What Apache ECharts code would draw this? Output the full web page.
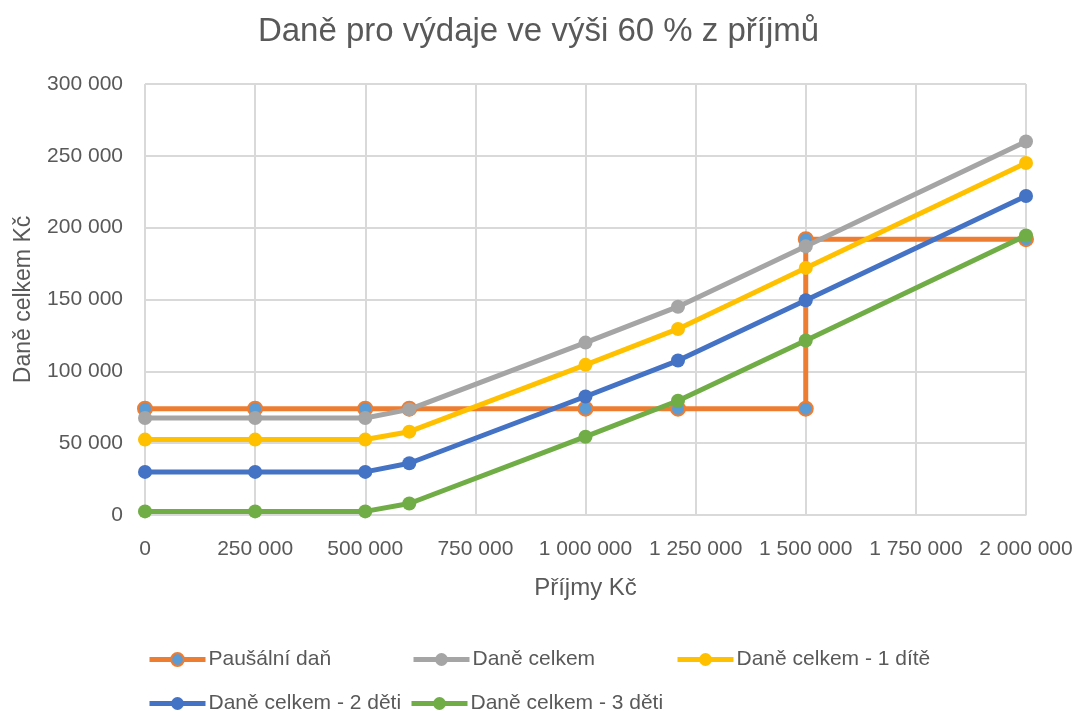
<!DOCTYPE html>
<html><head><meta charset="utf-8">
<script src="https://cdn.jsdelivr.net/npm/echarts@6/dist/echarts.min.js"></script>
<style>html,body{margin:0;padding:0;background:#fff}#c{width:1077px;height:711px}</style>
</head><body><div id="c"></div>
<script>
const xPausal = [0, 250000, 500000, 600000, 1000000, 1210000, 1500000, 1500000, 2000000];
const yPausal = [74000, 74000, 74000, 74000, 74000, 74000, 74000, 192000, 192000];
const xTax = [0, 250000, 500000, 600000, 1000000, 1210000, 1500000, 2000000];
const yCelkem = [67500, 67500, 67500, 73500, 120000, 145000, 187000, 260000];
const y1dite = [52500, 52500, 52500, 58000, 104500, 129500, 172000, 245000];
const y2deti = [30000, 30000, 30000, 36000, 82500, 107500, 149500, 222000];
const y3deti = [2500, 2500, 2500, 8000, 54500, 79500, 121500, 194500];
const names = ['Paušální daň', 'Daně celkem', 'Daně celkem - 1 dítě', 'Daně celkem - 2 děti', 'Daně celkem - 3 děti'];
const colors = ['#ED7D31', '#A5A5A5', '#FFC000', '#4472C4', '#70AD47'];
const xTicks = [0, 250000, 500000, 750000, 1000000, 1250000, 1500000, 1750000, 2000000];

const fmt = v => String(v).replace(/\B(?=(\d{3})+(?!\d))/g, ' ');
const font = 'Liberation Sans';
const txt = '#595959';

function pairs(xs, ys) { return xs.map((x, i) => [x, ys[i]]); }
const seriesData = [pairs(xPausal, yPausal), pairs(xTax, yCelkem), pairs(xTax, y1dite), pairs(xTax, y2deti), pairs(xTax, y3deti)];

const series = seriesData.map((d, i) => ({
  name: names[i], type: 'line', data: d, symbol: 'circle', symbolSize: 14,
  lineStyle: { color: colors[i], width: 5 },
  itemStyle: i === 0 ? { color: '#5B9BD5', borderColor: colors[0], borderWidth: 2 } : { color: colors[i] },
  color: colors[i], z: 2 + i
}));

const legendPos = [[142, 644], [406, 644], [670, 644], [142, 688], [404, 688]];
const legends = names.map((n, i) => ({
  data: [n], left: legendPos[i][0], top: legendPos[i][1], itemWidth: 56, itemHeight: 16, itemGap: 0,
  lineStyle: { width: 5 },
  textStyle: { fontFamily: font, fontSize: 21, color: txt, padding: [0, 0, 0, -2] }
}));

const chart = echarts.init(document.getElementById('c'));
chart.setOption({
  animation: false,
  title: { text: 'Daně pro výdaje ve výši 60 % z příjmů', left: 'center', top: 10,
    textStyle: { fontFamily: font, fontSize: 33, fontWeight: 'normal', color: txt } },
  legend: legends,
  grid: { left: 145, right: 51, top: 84, bottom: 196 },
  xAxis: { type: 'value', min: 0, max: 2000000, interval: 250000,
    name: 'Příjmy Kč', nameLocation: 'middle', nameGap: 61,
    nameTextStyle: { fontFamily: font, fontSize: 24, color: txt },
    axisLine: { show: true, lineStyle: { color: '#D9D9D9', width: 1.5 } }, axisTick: { show: false },
    axisLabel: { fontFamily: font, fontSize: 21, color: txt, margin: 24, formatter: v => fmt(v) },
    splitLine: { show: true, lineStyle: { color: '#D9D9D9', width: 2 } } },
  yAxis: { type: 'value', min: 0, max: 300000, interval: 50000,
    name: 'Daně celkem Kč', nameLocation: 'middle', nameGap: 110, nameRotate: 90,
    nameTextStyle: { fontFamily: font, fontSize: 23, color: txt },
    axisLine: { show: false }, axisTick: { show: false },
    axisLabel: { fontFamily: font, fontSize: 21, color: txt, margin: 22, formatter: v => fmt(v) },
    splitLine: { show: true, lineStyle: { color: '#D9D9D9', width: 2 } } },
  series: series
});
</script></body></html>
